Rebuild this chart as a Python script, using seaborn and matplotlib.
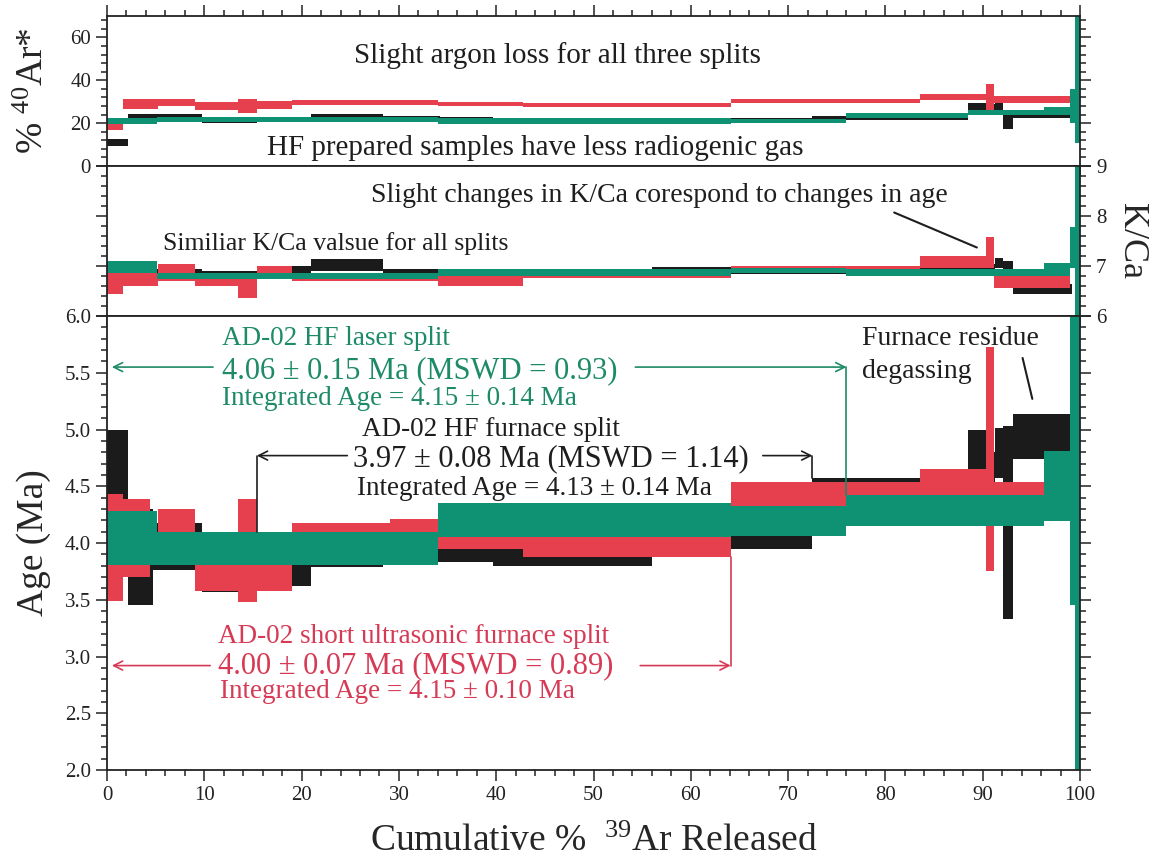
import numpy as np
import matplotlib
matplotlib.use('Agg')
import matplotlib.pyplot as plt
import seaborn as sns
from matplotlib.ticker import MultipleLocator, FormatStrFormatter

# ---------------- data (cumulative %39Ar step edges and 2-sigma bounds) ----------------
# HF furnace split (black)
blk_edges = [0, 2.2, 4.7, 9.8, 15.4, 18.8, 21.0, 28.4, 34.2, 39.7, 56.0, 64.1, 72.5, 88.5, 90.4, 91.3, 92.1, 93.1, 99.2]
blk_age_lo = [3.72, 3.45, 3.76, 3.57, 3.70, 3.62, 3.79, 3.83, 3.83, 3.80, 3.92, 3.95, 4.15, 4.55, 4.20, 4.57, 3.33, 4.74]
blk_age_hi = [5.00, 4.30, 4.18, 4.05, 4.05, 4.05, 4.10, 4.12, 4.15, 4.10, 4.25, 4.40, 4.57, 5.00, 4.80, 5.01, 5.03, 5.14]
blk_ar_lo = [9.3, 21.3, 21.3, 19.9, 20.5, 20.5, 21.8, 21.0, 20.5, 20.0, 20.0, 20.5, 21.5, 25.0, 25.0, 25.0, 17.2, 22.5]
blk_ar_hi = [12.5, 24.1, 24.1, 22.3, 23.0, 23.0, 24.1, 23.5, 22.7, 22.5, 22.5, 22.5, 23.5, 29.2, 29.0, 29.5, 26.0, 26.0]
blk_kca_lo = [6.71, 6.75, 6.80, 6.75, 6.80, 6.77, 6.90, 6.80, 6.75, 6.77, 6.87, 6.85, 6.85, 6.90, 6.90, 6.97, 6.90, 6.44]
blk_kca_hi = [7.00, 6.95, 6.95, 6.90, 6.95, 7.00, 7.15, 6.95, 6.87, 6.87, 6.98, 6.95, 6.97, 7.05, 7.05, 7.17, 7.10, 6.64]

# short ultrasonic furnace split (red)
red_edges = [0, 1.6, 4.4, 5.2, 9.0, 13.5, 15.4, 19.0, 29.1, 34.0, 42.8, 64.1, 83.6, 90.3, 91.2, 99.0]
red_age_lo = [3.49, 3.70, 3.82, 3.85, 3.58, 3.48, 3.58, 3.90, 3.90, 3.95, 3.88, 4.33, 4.33, 3.75, 4.30]
red_age_hi = [4.43, 4.39, 4.08, 4.30, 4.05, 4.39, 4.02, 4.18, 4.21, 4.20, 4.15, 4.54, 4.65, 5.73, 4.54]
red_ar_lo = [16.7, 26.4, 26.4, 27.8, 26.0, 24.6, 26.4, 28.3, 28.3, 28.0, 27.4, 29.2, 30.6, 24.6, 29.2]
red_ar_hi = [20.4, 31.5, 31.5, 31.5, 29.7, 31.5, 30.5, 30.6, 30.6, 30.0, 29.2, 31.5, 33.8, 38.5, 32.5]
red_kca_lo = [6.44, 6.60, 6.60, 6.70, 6.60, 6.37, 6.77, 6.70, 6.70, 6.60, 6.77, 6.90, 6.97, 6.97, 6.57]
red_kca_hi = [7.11, 6.87, 6.87, 7.05, 6.85, 6.85, 7.00, 6.80, 6.80, 6.80, 6.87, 7.00, 7.20, 7.57, 6.85]

# HF laser split (green)
grn_edges = [0, 5.1, 34.0, 64.1, 76.0, 88.5, 96.3, 99.0, 99.5, 100]
grn_age_lo = [3.81, 3.81, 4.05, 4.06, 4.15, 4.15, 4.19, 3.45, 1.50]
grn_age_hi = [4.28, 4.10, 4.35, 4.33, 4.42, 4.42, 4.81, 6.50, 6.50]
grn_ar_lo = [19.5, 20.5, 19.8, 20.0, 22.3, 23.6, 23.6, 20.0, 10.6]
grn_ar_hi = [22.3, 22.8, 22.3, 22.0, 24.6, 26.0, 27.4, 36.0, 75.0]
grn_kca_lo = [6.87, 6.75, 6.80, 6.87, 6.80, 6.80, 6.80, 6.97, 5.90]
grn_kca_hi = [7.11, 6.87, 6.95, 6.96, 6.95, 6.95, 7.07, 7.78, 9.10]

# plateau annotation texts
green_lines = ["AD-02 HF laser split", "4.06 \u00b1 0.15 Ma (MSWD = 0.93)", "Integrated Age = 4.15 \u00b1 0.14 Ma"]
black_lines = ["AD-02 HF furnace split", "3.97 \u00b1 0.08 Ma (MSWD = 1.14)", "Integrated Age = 4.13 \u00b1 0.14 Ma"]
red_lines = ["AD-02 short ultrasonic furnace split", "4.00 \u00b1 0.07 Ma (MSWD = 0.89)", "Integrated Age = 4.15 \u00b1 0.10 Ma"]

# ---------------- style ----------------
sns.set_theme(style='ticks')
plt.rcParams['font.family'] = ['Liberation Serif', 'DejaVu Serif']
plt.rcParams['mathtext.fontset'] = 'custom'
plt.rcParams['mathtext.rm'] = 'Liberation Serif'
plt.rcParams['mathtext.it'] = 'Liberation Serif:italic'
plt.rcParams['axes.linewidth'] = 1.3

BLK = '#1b1b1b'
RED = '#e6404e'
GRN = '#0f9273'
RED_T = '#d63a55'
GRN_T = '#1d8a68'
BLK_T = '#1e1e1e'

W, H = 1166, 867
fig = plt.figure(figsize=(W / 100, H / 100), dpi=100)
fig.patch.set_facecolor('white')
L, R = 107, 1080


def axes_px(top, bottom):
    return fig.add_axes([L / W, 1 - bottom / H, (R - L) / W, (bottom - top) / H])


ax_ar = axes_px(16, 166)
ax_kc = axes_px(166, 316)
ax_age = axes_px(316, 770)


def draw_steps(ax, edges, lo, hi, color):
    e = np.asarray(edges, float)
    lo = np.asarray(lo, float)
    hi = np.asarray(hi, float)
    ax.bar(e[:-1], hi - lo, width=np.diff(e), bottom=lo, align='edge',
           color=color, linewidth=0, edgecolor='none')


panel_data = {
    'ar': [(blk_edges, blk_ar_lo, blk_ar_hi, BLK), (red_edges, red_ar_lo, red_ar_hi, RED),
           (grn_edges, grn_ar_lo, grn_ar_hi, GRN)],
    'kca': [(blk_edges, blk_kca_lo, blk_kca_hi, BLK), (red_edges, red_kca_lo, red_kca_hi, RED),
            (grn_edges, grn_kca_lo, grn_kca_hi, GRN)],
    'age': [(blk_edges, blk_age_lo, blk_age_hi, BLK), (red_edges, red_age_lo, red_age_hi, RED),
            (grn_edges, grn_age_lo, grn_age_hi, GRN)],
}

for ax, key in [(ax_ar, 'ar'), (ax_kc, 'kca'), (ax_age, 'age')]:
    for edges, lo, hi, c in panel_data[key]:
        draw_steps(ax, edges, lo, hi, c)
    ax.set_xlim(0, 100)
    ax.xaxis.set_major_locator(MultipleLocator(10))
    ax.xaxis.set_minor_locator(MultipleLocator(2))
    ax.tick_params(which='both', direction='out', left=True, right=True, bottom=True,
                   top=False, labelsize=15, width=1.1, colors='#222222')
    ax.tick_params(which='major', length=8)
    ax.tick_params(which='minor', length=4)
    for s in ax.spines.values():
        s.set_visible(True)
        s.set_color('#222222')
    ax.set_facecolor('white')

# top panel
ax_ar.set_ylim(0, 70)
ax_ar.yaxis.set_major_locator(MultipleLocator(20))
ax_ar.yaxis.set_minor_locator(MultipleLocator(4))
ax_ar.tick_params(which='both', top=True, labelbottom=False, labelleft=True, labelright=False)
ax_ar.set_ylabel(r'% $^{40}$Ar*', fontsize=27, labelpad=14)
ax_ar.text(46.3, 51.5, "Slight argon loss for all three splits", fontsize=21,
           ha='center', va='center', color=BLK_T)
ax_ar.text(44.0, 8.3, "HF prepared samples have less radiogenic gas", fontsize=21,
           ha='center', va='center', color=BLK_T)

# middle panel
ax_kc.set_ylim(6, 9)
ax_kc.yaxis.set_major_locator(MultipleLocator(1))
ax_kc.yaxis.set_minor_locator(MultipleLocator(0.2))
ax_kc.yaxis.set_major_formatter(FormatStrFormatter('%d'))
ax_kc.tick_params(which='both', labelbottom=False, labelleft=False, labelright=True)
ax_kc.yaxis.set_label_position('right')
ax_kc.set_ylabel('K/Ca', fontsize=26, rotation=-90, labelpad=30)
ax_kc.text(56.8, 8.40, "Slight changes in K/Ca corespond to changes in age", fontsize=20,
           ha='center', va='center', color=BLK_T)
ax_kc.text(23.5, 7.45, "Similiar K/Ca valsue for all splits", fontsize=18.5,
           ha='center', va='center', color=BLK_T)
ax_kc.plot([80.9, 89.4], [8.07, 7.37], color=BLK_T, lw=1.5)

# bottom panel
ax_age.set_ylim(2.0, 6.0)
ax_age.yaxis.set_major_locator(MultipleLocator(0.5))
ax_age.yaxis.set_minor_locator(MultipleLocator(0.1))
ax_age.yaxis.set_major_formatter(FormatStrFormatter('%.1f'))
ax_age.tick_params(which='both', labelbottom=True, labelleft=True, labelright=False)
ax_age.set_ylabel('Age (Ma)', fontsize=27, labelpad=10)
ax_age.set_xlabel(r'Cumulative %  $^{39}$Ar Released', fontsize=27, labelpad=14)

ap = lambda c: dict(arrowstyle='->', color=c, lw=1.2, shrinkA=0, shrinkB=0, mutation_scale=16)

# green annotation
ax_age.text(11.8, 5.80, green_lines[0], fontsize=19.5, color=GRN_T, ha='left', va='center')
ax_age.text(11.8, 5.52, green_lines[1], fontsize=22, color=GRN_T, ha='left', va='center')
ax_age.text(11.8, 5.27, green_lines[2], fontsize=19.5, color=GRN_T, ha='left', va='center')
ax_age.annotate('', xy=(0.5, 5.55), xytext=(10.9, 5.55), arrowprops=ap(GRN_T))
ax_age.annotate('', xy=(76.0, 5.55), xytext=(54.3, 5.55), arrowprops=ap(GRN_T))
ax_age.plot([76.0, 76.0], [5.55, 4.42], color=GRN_T, lw=1.2)

# black annotation
ax_age.text(26.2, 5.00, black_lines[0], fontsize=19.5, color=BLK_T, ha='left', va='center')
ax_age.text(25.3, 4.74, black_lines[1], fontsize=22, color=BLK_T, ha='left', va='center')
ax_age.text(25.7, 4.48, black_lines[2], fontsize=19.5, color=BLK_T, ha='left', va='center')
ax_age.annotate('', xy=(15.4, 4.77), xytext=(24.7, 4.77), arrowprops=ap(BLK_T))
ax_age.plot([15.4, 15.4], [4.77, 4.10], color=BLK_T, lw=1.2)
ax_age.annotate('', xy=(72.5, 4.77), xytext=(67.4, 4.77), arrowprops=ap(BLK_T))
ax_age.plot([72.5, 72.5], [4.77, 4.57], color=BLK_T, lw=1.2)

# red annotation
ax_age.text(11.4, 3.18, red_lines[0], fontsize=19.5, color=RED_T, ha='left', va='center')
ax_age.text(11.4, 2.92, red_lines[1], fontsize=22, color=RED_T, ha='left', va='center')
ax_age.text(11.6, 2.69, red_lines[2], fontsize=19.5, color=RED_T, ha='left', va='center')
ax_age.annotate('', xy=(0.5, 2.92), xytext=(10.6, 2.92), arrowprops=ap(RED_T))
ax_age.annotate('', xy=(64.1, 2.92), xytext=(54.8, 2.92), arrowprops=ap(RED_T))
ax_age.plot([64.1, 64.1], [2.92, 3.88], color=RED_T, lw=1.2)

# furnace residue note
ax_age.text(77.6, 5.80, "Furnace residue", fontsize=20, color=BLK_T, ha='left', va='center')
ax_age.text(77.6, 5.51, "degassing", fontsize=20, color=BLK_T, ha='left', va='center')
ax_age.plot([94.1, 95.1], [5.63, 5.27], color=BLK_T, lw=1.5)

fig.savefig('out.png', dpi=100, facecolor='white')
